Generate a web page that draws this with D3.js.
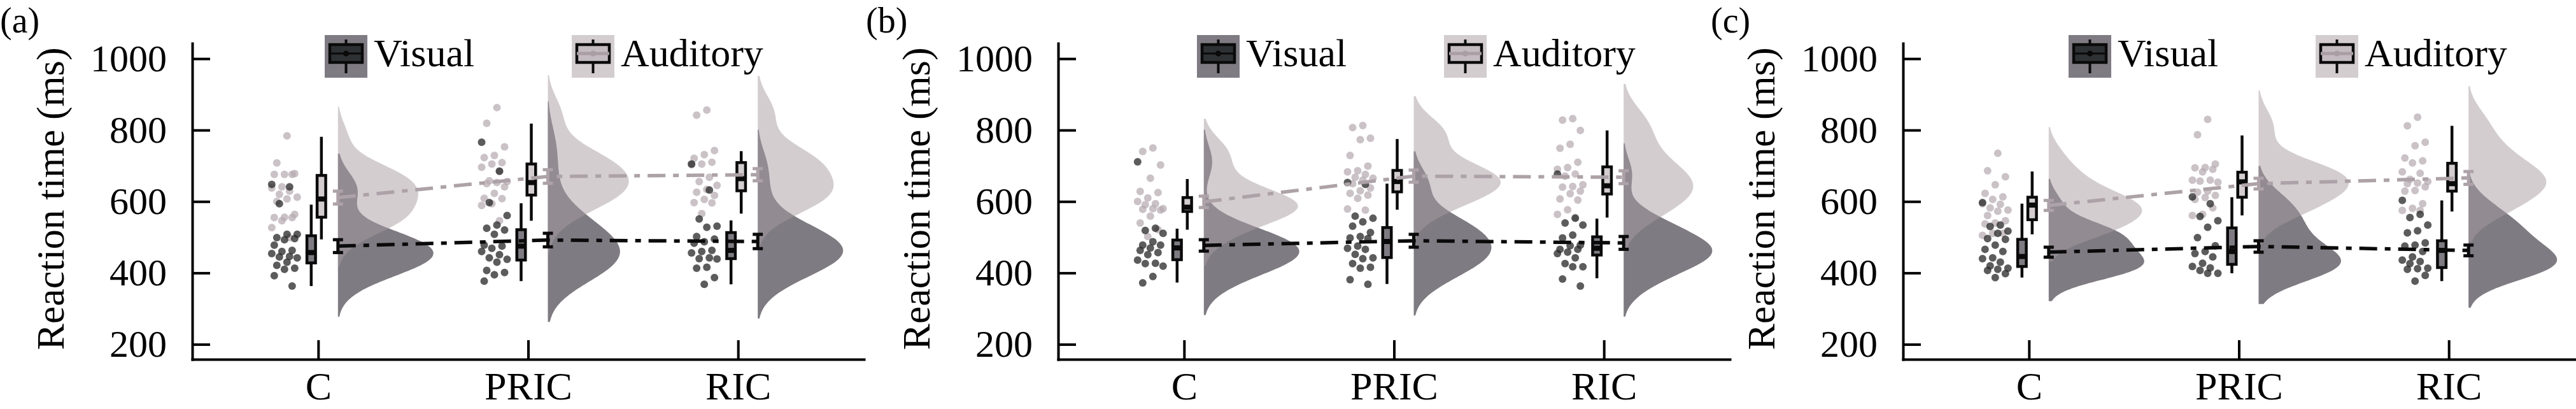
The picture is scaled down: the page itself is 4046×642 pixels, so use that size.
<!DOCTYPE html>
<html>
<head>
<meta charset="utf-8">
<script src="https://cdn.jsdelivr.net/npm/d3@7"></script>
<style>
  body { margin: 0; background: #fff; }
  svg { display: block; font-family: "Liberation Serif", "Times New Roman", serif; }
  .axis path, .axis line { stroke: #000; stroke-width: 4; }
  .axis text { fill: #000; font-family: "Liberation Serif", "Times New Roman", serif; }
</style>
</head>
<body>
<div id="chart"></div>
<script>
/* DATA (ms) */
const categories = ["C", "PRIC", "RIC"];
const modalities = ["Visual", "Auditory"];
const yTicks = [200, 400, 600, 800, 1000];
const panelLabels = ["(a)", "(b)", "(c)"];

// panel (a)
const dotsVisA = [
  [648, 641, 594, 508, 508, 499, 496, 493, 478, 463, 460, 454, 446, 445, 442, 430, 421, 413, 410, 392, 363],
  [766, 685, 597, 561, 534, 525, 520, 508, 478, 475, 469, 460, 451, 442, 438, 430, 407, 401, 395, 377],
  [705, 632, 551, 531, 528, 502, 495, 487, 483, 463, 460, 456, 442, 440, 439, 416, 413, 387, 368]
];
const dotsAudA = [
  [784, 708, 678, 676, 676, 676, 641, 638, 629, 620, 612, 607, 600, 564, 556, 555, 555, 546, 527, 499],
  [863, 819, 753, 729, 723, 709, 705, 696, 685, 658, 656, 653, 650, 641, 623, 609, 608, 594, 589, 546],
  [856, 842, 743, 731, 721, 710, 705, 703, 668, 656, 645, 634, 626, 617, 606, 597, 596, 566]
];
// [lower whisker, q1, median, q3, upper whisker]
const boxVisA = [[363, 428, 457, 504, 591], [377, 436, 475, 521, 595], [368, 440, 463, 513, 547]];
const boxAudA = [[494, 556, 607, 673, 781], [546, 618, 653, 705, 818], [566, 630, 664, 709, 741]];
const meanVisA = [475, 492, 488], seVisA = [18, 19, 20];
const meanAudA = [611, 670, 675], seAudA = [18, 19, 17];

// panel (b)
const dotsVisB = [
  [711, 525, 519, 511, 487, 478, 478, 470, 463, 457, 451, 436, 427, 426, 419, 390, 372],
  [653, 648, 559, 553, 543, 531, 513, 502, 498, 496, 475, 469, 466, 452, 442, 440, 426, 416, 413, 381, 368],
  [677, 553, 540, 534, 506, 498, 478, 476, 466, 466, 458, 454, 442, 426, 417, 417, 383, 363]
];
const dotsAudB = [
  [750, 740, 702, 665, 628, 625, 610, 600, 594, 591, 580, 580, 578, 576, 559, 540, 521, 502],
  [813, 807, 777, 773, 729, 699, 686, 683, 676, 668, 665, 660, 650, 638, 630, 623, 618, 609, 579, 576],
  [832, 828, 799, 760, 749, 710, 695, 690, 677, 671, 647, 642, 640, 629, 622, 607, 604, 577, 564, 555]
];
const boxVisB = [[373, 437, 470, 492, 524], [369, 443, 488, 527, 650], [385, 450, 469, 501, 552]];
const boxAudB = [[521, 572, 584, 611, 663], [577, 627, 656, 687, 775], [555, 621, 644, 697, 799]];
const meanVisB = [477, 490, 484], seVisB = [16, 18, 18];
const meanAudB = [599, 671, 668], seAudB = [16, 17, 18];

// panel (c)
const dotsVisC = [
  [597, 534, 530, 517, 511, 496, 494, 478, 466, 460, 442, 440, 430, 420, 413, 410, 407, 398, 387],
  [613, 594, 558, 546, 528, 499, 476, 460, 454, 445, 427, 418, 414, 407, 399, 399],
  [603, 564, 555, 534, 518, 512, 484, 478, 475, 460, 445, 436, 432, 426, 413, 412, 410, 393, 377]
];
const dotsAudC = [
  [735, 686, 669, 647, 623, 613, 606, 594, 592, 582, 576, 573, 561, 546, 540, 537, 511, 511, 505],
  [830, 787, 705, 695, 694, 690, 683, 660, 660, 657, 654, 629, 626, 617, 611, 606, 582, 564, 561],
  [836, 812, 766, 756, 722, 714, 708, 683, 679, 662, 656, 652, 650, 641, 631, 629, 594, 581, 575, 575]
];
const boxVisC = [[387, 418, 446, 494, 594], [399, 424, 460, 526, 612], [377, 415, 463, 490, 603]];
const boxAudC = [[508, 549, 590, 612, 684], [561, 612, 655, 682, 785], [572, 629, 650, 707, 812]];
const meanVisC = [458, 474, 463], seVisC = [14, 16, 15];
const meanAudC = [589, 650, 666], seAudC = [14, 15, 18];

const panels = [
  { dotsVis: dotsVisA, dotsAud: dotsAudA, boxVis: boxVisA, boxAud: boxAudA, meanVis: meanVisA, seVis: seVisA, meanAud: meanAudA, seAud: seAudA },
  { dotsVis: dotsVisB, dotsAud: dotsAudB, boxVis: boxVisB, boxAud: boxAudB, meanVis: meanVisB, seVis: seVisB, meanAud: meanAudB, seAud: seAudB },
  { dotsVis: dotsVisC, dotsAud: dotsAudC, boxVis: boxVisC, boxAud: boxAudC, meanVis: meanVisC, seVis: seVisC, meanAud: meanAudC, seAud: seAudC }
];

/* LAYOUT */
const width = 4046, height = 642;
const panelLeft = [302, 1662, 2989];
const legendLeft = [208, 218, 260];
const plotW = 1055;
const yTop = 68, yBottom = 564;

// colours
const visDensity = "#7f7b82", audDensity = "#a79ba1";
const visPatch = "#7f7b82", audPatch = "#d3cdd0";
const audLine = "#ada2a7";

const svg = d3.select("#chart")
  .append("svg")
  .attr("width", width)
  .attr("height", height);

const yScale = d3.scaleLinear().domain([158, 1043]).range([yBottom, yTop]);

// gaussian kde with scott bandwidth
function kde(values) {
  const n = values.length;
  const bw = 1.06 * d3.deviation(values) * Math.pow(n, -0.2);
  const lo = d3.min(values) - 2 * bw, hi = d3.max(values) + 2 * bw;
  return d3.range(0, 121).map(i => {
    const v = lo + (hi - lo) * i / 120;
    const dens = d3.mean(values, d => Math.exp(-0.5 * ((v - d) / bw) ** 2)) / (bw * Math.sqrt(2 * Math.PI));
    return [v, dens];
  });
}

// fixed jitter pattern for the rain dots, in [-0.5, 0.5]
function jitter(i) {
  return ((i * 7) % 11) / 10 - 0.5;
}

panels.forEach((p, pi) => {
  const g = svg.append("g").attr("transform", `translate(${panelLeft[pi]},0)`);

  const xScale = d3.scalePoint()
    .domain(categories)
    .range([0, plotW])
    .padding(0.6);

  // + DENSITIES
  const densVis = p.dotsVis.map(kde);
  const densAud = p.dotsAud.map(kde);
  const maxD = d3.max([...densVis, ...densAud].flat(), d => d[1]);
  const wScale = d3.scaleLinear().domain([0, maxD]).range([0, 150]);

  const areaFunc = d3.area()
    .curve(d3.curveBasis)
    .y(d => yScale(d[0]))
    .x0(0)
    .x1(d => wScale(d[1]));

  categories.forEach((cat, ci) => {
    const base = xScale(cat) + 31;
    g.append("path")
      .attr("transform", `translate(${base},0)`)
      .attr("d", areaFunc(densVis[ci]))
      .attr("fill", visDensity);
    g.append("path")
      .attr("transform", `translate(${base},0)`)
      .attr("d", areaFunc(densAud[ci]))
      .attr("fill", audDensity)
      .attr("fill-opacity", 0.5);
  });

  // + RAIN DOTS
  categories.forEach((cat, ci) => {
    const cx = xScale(cat) - 53;
    g.append("g")
      .selectAll("circle")
      .data(p.dotsAud[ci])
      .join("circle")
      .attr("cx", (d, i) => cx + jitter(i + 4) * 40)
      .attr("cy", d => yScale(d))
      .attr("r", 6)
      .attr("fill", "#b4a8ae")
      .attr("fill-opacity", 0.7);
    g.append("g")
      .selectAll("circle")
      .data(p.dotsVis[ci])
      .join("circle")
      .attr("cx", (d, i) => cx + jitter(i) * 40)
      .attr("cy", d => yScale(d))
      .attr("r", 6)
      .attr("fill", "#262626")
      .attr("fill-opacity", 0.75);
  });

  // + BOXES
  function drawBox(stats, cx, fill) {
    const [lo, q1, med, q3, hi] = stats;
    const bw = 13.5;
    g.append("line")
      .attr("x1", cx).attr("x2", cx)
      .attr("y1", yScale(hi)).attr("y2", yScale(lo))
      .attr("stroke", "#0a0a0a").attr("stroke-width", 4.5);
    g.append("rect")
      .attr("x", cx - bw / 2)
      .attr("y", yScale(q3))
      .attr("width", bw)
      .attr("height", yScale(q1) - yScale(q3))
      .attr("fill", fill)
      .attr("stroke", "#0a0a0a")
      .attr("stroke-width", 4.5);
    g.append("line")
      .attr("x1", cx - bw / 2).attr("x2", cx + bw / 2)
      .attr("y1", yScale(med)).attr("y2", yScale(med))
      .attr("stroke", "#0a0a0a").attr("stroke-width", 8);
  }
  categories.forEach((cat, ci) => {
    drawBox(p.boxVis[ci], xScale(cat) - 11, visPatch);
    drawBox(p.boxAud[ci], xScale(cat) + 5, audPatch);
  });

  // + MEAN LINES
  const lineFunc = d3.line()
    .x((d, i) => xScale(categories[i]) + 31)
    .y(d => yScale(d));
  g.append("path")
    .attr("d", lineFunc(p.meanAud))
    .attr("fill", "none")
    .attr("stroke", audLine)
    .attr("stroke-width", 5.5)
    .attr("stroke-dasharray", "28,12,9,12");
  g.append("path")
    .attr("d", lineFunc(p.meanVis))
    .attr("fill", "none")
    .attr("stroke", "#0a0a0a")
    .attr("stroke-width", 5.5)
    .attr("stroke-dasharray", "28,12,9,12");

  // + ERROR BARS (mean +- se)
  function drawErr(m, se, cx, color) {
    const eg = g.append("g").attr("stroke", color).attr("stroke-width", 5);
    eg.append("line").attr("x1", cx).attr("x2", cx).attr("y1", yScale(m + se)).attr("y2", yScale(m - se));
    eg.append("line").attr("x1", cx - 8).attr("x2", cx + 8).attr("y1", yScale(m + se)).attr("y2", yScale(m + se));
    eg.append("line").attr("x1", cx - 8).attr("x2", cx + 8).attr("y1", yScale(m - se)).attr("y2", yScale(m - se));
  }
  categories.forEach((cat, ci) => {
    drawErr(p.meanAud[ci], p.seAud[ci], xScale(cat) + 31, audLine);
    drawErr(p.meanVis[ci], p.seVis[ci], xScale(cat) + 31, "#0a0a0a");
  });

  // + AXES
  const yAxis = d3.axisLeft(yScale)
    .tickValues(yTicks)
    .tickFormat(d3.format("d"))
    .tickSize(-28)
    .tickSizeOuter(0)
    .tickPadding(40);
  g.append("g")
    .attr("class", "axis y-axis")
    .call(yAxis)
    .style("font-size", "60px");

  const xAxis = d3.axisBottom(xScale)
    .tickSize(-30)
    .tickSizeOuter(0);
  g.append("g")
    .attr("class", "axis x-axis")
    .attr("transform", `translate(0,${yBottom})`)
    .call(xAxis)
    .style("font-size", "62px")
    .selectAll("text")
    .attr("y", 63)
    .attr("dy", 0);
  g.selectAll(".axis path").attr("stroke-linecap", "square");

  // y label
  g.append("text")
    .attr("transform", `translate(-202,312) rotate(-90)`)
    .attr("text-anchor", "middle")
    .style("font-size", "62px")
    .text("Reaction time (ms)");

  // panel label
  g.append("text")
    .attr("x", -302)
    .attr("y", 51)
    .style("font-size", "56px")
    .text(panelLabels[pi]);

  // + LEGEND
  modalities.forEach((m, mi) => {
    const lx = legendLeft[pi] + mi * 388;
    const lg = g.append("g").attr("transform", `translate(${lx},55)`);
    lg.append("rect")
      .attr("width", 67).attr("height", 67)
      .attr("fill", mi === 0 ? visPatch : audPatch);
    lg.append("line")
      .attr("x1", 33.5).attr("x2", 33.5).attr("y1", 7).attr("y2", 60)
      .attr("stroke", "#0a0a0a").attr("stroke-width", 4);
    lg.append("rect")
      .attr("x", 8).attr("y", 15).attr("width", 51).attr("height", 28)
      .attr("fill", mi === 0 ? "#2e3133" : "#c4bbc0")
      .attr("stroke", "#0a0a0a").attr("stroke-width", 4.5);
    lg.append("line")
      .attr("x1", 8).attr("x2", 59).attr("y1", 29).attr("y2", 29)
      .attr("stroke", mi === 0 ? "#0a0a0a" : "#a99ea3")
      .attr("stroke-width", mi === 0 ? 3 : 5);
    lg.append("circle")
      .attr("cx", 33.5).attr("cy", 29).attr("r", 4.5)
      .attr("fill", mi === 0 ? "#0a0a0a" : "#a99ea3");
    lg.append("text")
      .attr("x", 77)
      .attr("y", 49)
      .style("font-size", "62px")
      .text(m);
  });
});
</script>
</body>
</html>
